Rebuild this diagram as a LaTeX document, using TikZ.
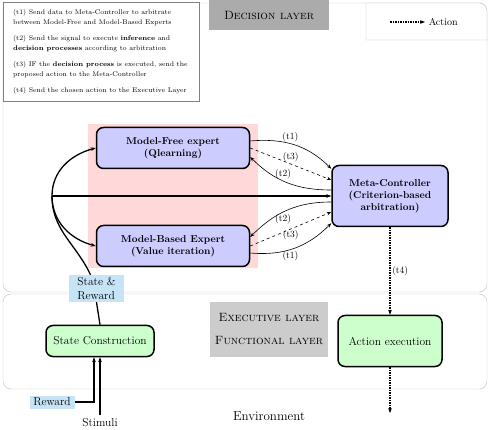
\documentclass[tikz,border=0pt]{standalone}
\usepackage{fontspec}
\usepackage{tikz}
\usetikzlibrary{arrows.meta}
\definecolor{lblue}{RGB}{198,228,245}
\newcommand{\midsize}{\fontsize{11.5}{13.5}\selectfont}
\begin{document}
\begin{tikzpicture}[x=1pt, y=-1pt,
    layerbox/.style={draw=black!25, rounded corners=8pt},
    expert/.style={draw, line width=1.5pt, rounded corners=7pt, fill=blue!20, font=\bfseries, align=center, inner sep=2pt},
    module/.style={draw, line width=1.5pt, rounded corners=7pt, fill=green!20, font=\midsize, align=center},
    tag/.style={fill=lblue, font=\midsize, inner sep=1pt},
    layername/.style={font=\fontsize{12}{14}\selectfont\scshape, align=center},
    flow/.style={line width=1.3pt, -{Stealth[length=5pt]}},
    msg/.style={line width=0.6pt, -{Stealth[length=4.5pt]}},
    actionflow/.style={line width=1.5pt, densely dotted, -{Stealth[length=5pt]}},
    tlabel/.style={font=\fontsize{9.5}{11}\selectfont, inner sep=1.5pt}]
  \useasboundingbox (0,0) rectangle (490,430);

  \draw[layerbox] (3,3) rectangle (487,292);
  \draw[layerbox] (3,294) rectangle (487,389);
  \fill[red!15] (88,124) rectangle (258,268);

  \draw[black!50, fill=white] (3,2) rectangle (199,101);
  \node[anchor=north west, inner sep=0pt, align=left, font=\fontsize{6.8}{10}\selectfont] (notes) at (13,9)
    {(t1) Send data to Meta-Controller to arbitrate\\
     between Model-Free and Model-Based Experts\\[6pt]
     (t2) Send the signal to execute \textbf{inference} and\\
     \textbf{decision processes} according to arbitration\\[6pt]
     (t3) IF the \textbf{decision process} is executed, send the\\
     proposed action to the Meta-Controller\\[6pt]
     (t4) Send the chosen action to the Executive Layer};

  \node[fill=black!33, minimum width=120pt, minimum height=30pt, layername] (declayer) at (269,15) {Decision layer};

  \draw[black!25, fill=white] (366,40) -- (366,3) -- (479,3) to[out=0, in=90] (487,11) -- (487,40) -- cycle;
  \coordinate (keya) at (390,22);
  \coordinate (keyb) at (425,22);
  \draw[actionflow] (keya) -- (keyb) node[right, inner sep=3pt] (keytext) {Action};

  \node[expert, minimum width=153pt, minimum height=41pt] (mf) at (173,148) {Model-Free expert\\(Qlearning)};
  \node[expert, minimum width=153pt, minimum height=41pt] (mb) at (173,246) {Model-Based Expert\\(Value iteration)};
  \node[expert, minimum width=116pt, minimum height=61pt] (meta) at (390,196) {Meta-Controller\\(Criterion-based\\arbitration)};
  \node[module, minimum width=108pt, minimum height=31pt] (sc) at (100,341) {State Construction};
  \node[module, minimum width=104pt, minimum height=51pt] (exe) at (390,341) {Action execution};
  \node[fill=black!20, minimum width=118pt, minimum height=55pt, layername] (exlayer) at (269,329.5) {Executive layer\\[9pt]Functional layer};

  \node[tag, align=left, minimum width=55pt, minimum height=27pt] (sr) at (96.5,288.5) {State \&\\Reward};
  \node[tag, minimum width=45pt, minimum height=13pt] (rw) at (52,402) {Reward};
  \node[font=\midsize] (stim) at (100,423) {Stimuli};
  \node[font=\fontsize{13}{15}\selectfont] (env) at (269,416) {Environment};

  \coordinate (hub) at (52,196);
  \coordinate (out) at (390,413);

  \draw[line width=1.3pt] (sc.north) -- (sr.south);
  \draw[line width=1.3pt] ([xshift=-6pt]sr.north) to[out=115, in=-90] (hub);
  \draw[flow] (hub) to[out=90, in=195] (mf.west);
  \draw[flow] (hub) to[out=-90, in=165] (mb.west);
  \draw[flow] (hub) -- (meta.west);

  \draw[msg] ([yshift=7pt]mf.east) to[out=5, in=135] node[tlabel, above, pos=0.45] {(t1)} ([yshift=-4pt]meta.north west);
  \draw[msg, dashed] (mf.east) -- node[tlabel, above, pos=0.5] {(t3)} ([yshift=16pt]meta.west);
  \draw[msg] ([yshift=6pt]meta.west) to[out=180, in=-45] node[tlabel, above, pos=0.55] {(t2)} ([yshift=-9pt]mf.east);

  \draw[msg] ([yshift=-6pt]meta.west) to[out=180, in=45] node[tlabel, below, pos=0.55] {(t2)} ([yshift=9pt]mb.east);
  \draw[msg, dashed] (mb.east) -- node[tlabel, below, pos=0.5] {(t3)} ([yshift=-16pt]meta.west);
  \draw[msg] ([yshift=-7pt]mb.east) to[out=-5, in=-135] node[tlabel, below, pos=0.45] {(t1)} ([yshift=4pt]meta.south west);

  \draw[actionflow] (meta.south) -- node[tlabel, right] {(t4)} (exe.north);
  \draw[actionflow] (exe.south) -- (out);

  \draw[flow] (stim.north) -- (sc.south);
  \draw[flow] (rw.east) -| ([xshift=-6pt]sc.south);
\end{tikzpicture}
\end{document}
